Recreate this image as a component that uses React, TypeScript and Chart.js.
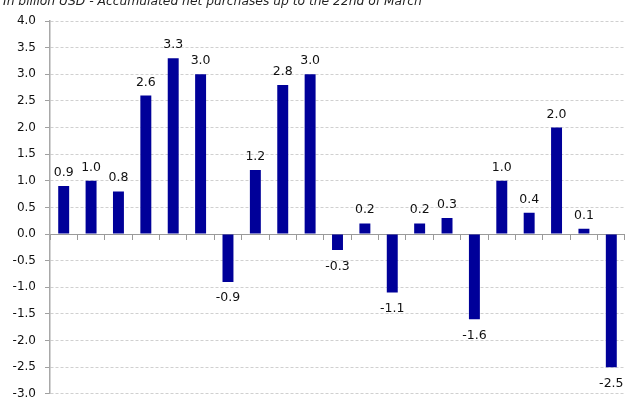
import React, { useEffect, useRef } from "react";
import { Chart, registerables } from "chart.js";

Chart.register(...registerables);

// Accumulated net purchases, in billion USD, one bar per period
const categories: string[] = [
  "1", "2", "3", "4", "5", "6", "7", "8", "9", "10", "11",
  "12", "13", "14", "15", "16", "17", "18", "19", "20", "21",
];
const netPurchases: number[] = [
  0.9, 1.0, 0.8, 2.6, 3.3, 3.0, -0.9, 1.2, 2.8, 3.0, -0.3,
  0.2, -1.1, 0.2, 0.3, -1.6, 1.0, 0.4, 2.0, 0.1, -2.5,
];
const yMin = -3;
const yMax = 4;
const yStep = 0.5;
const subtitle = "In billion USD - Accumulated net purchases up to the 22nd of March";

const FONT = "'DejaVu Sans', sans-serif";

const valueLabels = {
  id: "valueLabels",
  afterDatasetsDraw(chart: any) {
    const ctx = chart.ctx;
    const meta = chart.getDatasetMeta(0);
    ctx.save();
    ctx.font = `12.5px ${FONT}`;
    ctx.fillStyle = "#111";
    ctx.textAlign = "center";
    meta.data.forEach((bar: any, i: number) => {
      const v = netPurchases[i];
      const text = v.toFixed(1);
      if (v >= 0) {
        ctx.textBaseline = "alphabetic";
        ctx.fillText(text, bar.x, bar.y - 10);
      } else {
        ctx.textBaseline = "top";
        ctx.fillText(text, bar.x, bar.y + 10);
      }
    });
    ctx.restore();
  },
};

const subtitlePlugin = {
  id: "subtitleText",
  afterDraw(chart: any) {
    const ctx = chart.ctx;
    ctx.save();
    ctx.font = `italic 12.3px ${FONT}`;
    ctx.fillStyle = "#222";
    ctx.textAlign = "left";
    ctx.textBaseline = "alphabetic";
    ctx.fillText(subtitle, 3, 4.5);
    ctx.restore();
  },
};

export default function App() {
  const canvasRef = useRef<HTMLCanvasElement | null>(null);

  useEffect(() => {
    if (!canvasRef.current) return;
    const chart = new Chart(canvasRef.current, {
      type: "bar",
      data: {
        labels: categories,
        datasets: [
          {
            data: netPurchases,
            backgroundColor: "#000099",
            borderWidth: 0,
            barPercentage: 0.4,
            categoryPercentage: 1,
          },
        ],
      },
      options: {
        responsive: false,
        animation: false,
        layout: { padding: { top: 21, bottom: 0, left: 0, right: 0 } },
        plugins: {
          legend: { display: false },
          tooltip: { enabled: false },
        },
        scales: {
          x: {
            position: { y: 0 } as any,
            afterFit(scale: any) {
              scale.height = 0;
            },
            grid: {
              drawOnChartArea: false,
              drawTicks: true,
              tickLength: 5,
              tickColor: "#9a9a9a",
              offset: true,
            },
            border: { display: true, color: "#9a9a9a", width: 1 },
            ticks: { display: false },
          },
          y: {
            min: yMin,
            max: yMax,
            afterFit(scale: any) {
              scale.width = 50;
            },
            ticks: {
              stepSize: yStep,
              padding: 9,
              color: "#111",
              font: { family: FONT, size: 12 },
              callback: (v: any) => Number(v).toFixed(1),
            },
            grid: {
              color: "#d0d0d0",
              tickColor: "#a0a0a0",
              tickLength: 5,
              tickBorderDash: [],
            },
            border: { display: true, color: "#a8a8a8", width: 1.5, dash: [3, 2] },
          },
        },
      },
      plugins: [valueLabels, subtitlePlugin],
    });
    return () => chart.destroy();
  }, []);

  return (
    <div style={{ position: "absolute", top: 0, left: 0, width: 625, height: 399, overflow: "hidden" }}>
      <canvas ref={canvasRef} width={625} height={410} style={{ display: "block" }} />
    </div>
  );
}
